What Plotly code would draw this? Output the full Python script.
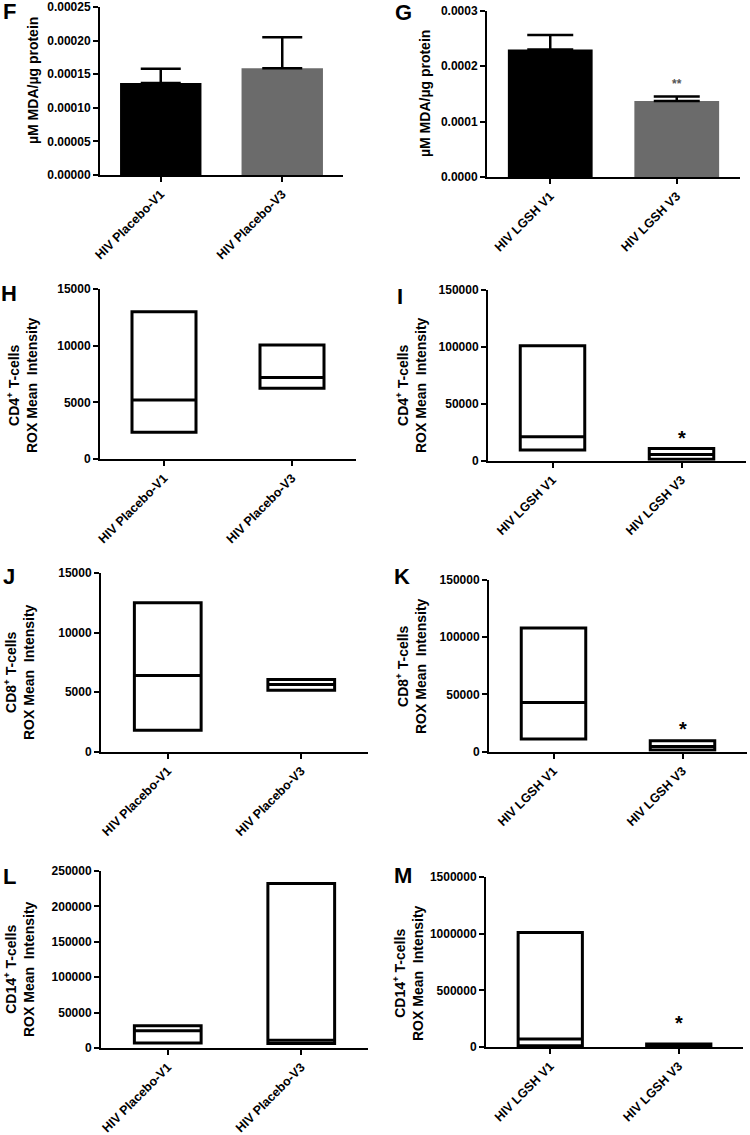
import plotly.graph_objects as go

W, H = 750, 1135

# bar panels (mean + SEM)
f_labels = ["HIV Placebo-V1", "HIV Placebo-V3"]
f_mean = [0.000137, 0.000159]
f_err = [0.000021, 0.000046]

g_labels = ["HIV LGSH V1", "HIV LGSH V3"]
g_mean = [0.000230, 0.000137]
g_err = [0.000026, 0.000008]

# floating bar panels: min, median, max
h_min = [2350, 6250]
h_med = [5200, 7200]
h_max = [13000, 10050]

i_min = [9500, 1200]
i_med = [21000, 5500]
i_max = [101000, 10800]

j_min = [1800, 5150]
j_med = [6400, 5650]
j_max = [12500, 6050]

k_min = [11000, 1400]
k_med = [43000, 4500]
k_max = [108000, 9600]

l_min = [7000, 6500]
l_med = [24500, 11000]
l_max = [31500, 232500]

m_min = [12000, 5000]
m_med = [70000, 15000]
m_max = [1010000, 26000]

FONT = "Liberation Sans, Arial, sans-serif"


def px_x(v):
    return v / W


def px_y(v):
    return 1 - v / H


fig = go.Figure()

# panel definitions: axis id, x px range, y px range (top, bottom), y range, dtick, format
panels = [
    ("F", 1, (100, 343), (7, 175), [0, 0.00025], 0.00005, ".5f"),
    ("G", 2, (487, 740), (10.7, 177), [0, 0.0003], 0.0001, ".4f"),
    ("H", 3, (100, 356), (289, 459), [0, 15000], 5000, "d"),
    ("I", 4, (488, 746), (290, 460.7), [0, 150000], 50000, "d"),
    ("J", 5, (101, 368), (573, 751.7), [0, 15000], 5000, "d"),
    ("K", 6, (489, 747), (580, 751.7), [0, 150000], 50000, "d"),
    ("L", 7, (101, 368), (871, 1048), [0, 250000], 50000, "d"),
    ("M", 8, (486, 743), (877, 1047), [0, 1500000], 500000, "d"),
]

layout = {}
for name, n, xr, yr, rng, dt, fmt in panels:
    sx = "" if n == 1 else str(n)
    layout["xaxis" + sx] = dict(
        domain=[px_x(xr[0]), px_x(xr[1])], anchor="y" + sx, range=[-0.5, 1.5],
        type="category", showline=True, linecolor="black", linewidth=2,
        ticks="outside", ticklen=5, tickwidth=2, tickcolor="black",
        tickangle=-45, showgrid=False, zeroline=False, automargin=False,
        tickfont=dict(family=FONT, size=12.5, color="black", weight="bold"),
    )
    layout["yaxis" + sx] = dict(
        domain=[px_y(yr[1]), px_y(yr[0])], anchor="x" + sx, range=rng,
        dtick=dt, tick0=0, tickformat=fmt, showline=True, linecolor="black",
        linewidth=2, ticks="outside", ticklen=5, tickwidth=2, tickcolor="black",
        showgrid=False, zeroline=False, automargin=False,
        tickfont=dict(family=FONT, size=12, color="black", weight="bold"),
    )

# bar charts
for n, labels, mean, err, cap in [(1, f_labels, f_mean, f_err, 20), (2, g_labels, g_mean, g_err, 23)]:
    sx = "" if n == 1 else str(n)
    fig.add_trace(go.Bar(
        x=labels, y=mean, xaxis="x" + sx, yaxis="y" + sx,
        marker=dict(color=["#000000", "#6b6b6b"], line=dict(width=0)),
        width=0.67,
        error_y=dict(type="data", symmetric=False, array=err, arrayminus=[0, 0],
                     color="black", thickness=2.5, width=cap),
        showlegend=False,
    ))

# floating bars (min-max with median)
box_sets = [
    (3, f_labels, h_min, h_med, h_max),
    (4, g_labels, i_min, i_med, i_max),
    (5, f_labels, j_min, j_med, j_max),
    (6, g_labels, k_min, k_med, k_max),
    (7, f_labels, l_min, l_med, l_max),
    (8, g_labels, m_min, m_med, m_max),
]
for n, labels, lo, md, hi in box_sets:
    sx = str(n)
    fig.add_trace(go.Box(
        x=labels, q1=lo, median=md, q3=hi, lowerfence=lo, upperfence=hi,
        xaxis="x" + sx, yaxis="y" + sx, width=0.5,
        fillcolor="white", line=dict(color="black", width=3),
        boxpoints=False, showlegend=False, hoverinfo="skip",
    ))

ann = []
# panel letters
letters = [("F", 9, 11), ("G", 403, 12), ("H", 9, 294), ("I", 400, 296),
           ("J", 9, 576), ("K", 402, 576), ("L", 9, 876), ("M", 403, 875)]
for t, x, y in letters:
    ann.append(dict(text=t, x=px_x(x), y=px_y(y), xref="paper", yref="paper",
                    showarrow=False, xanchor="center", yanchor="middle",
                    font=dict(family=FONT, size=22, color="black", weight="bold")))

mda = "\u00b5M MDA/\u00b5g protein"
titles = [
    (mda, 33, 81),
    (mda, 425, 94),
    ("CD4<sup>+</sup> T-cells<br>ROX Mean\u00a0 Intensity", 22, 385),
    ("CD4<sup>+</sup> T-cells<br>ROX Mean\u00a0 Intensity", 411, 385),
    ("CD8<sup>+</sup> T-cells<br>ROX Mean\u00a0 Intensity", 19, 672),
    ("CD8<sup>+</sup> T-cells<br>ROX Mean\u00a0 Intensity", 411, 666),
    ("CD14<sup>+</sup> T-cells<br>ROX Mean\u00a0 Intensity", 19, 969),
    ("CD14<sup>+</sup> T-cells<br>ROX Mean\u00a0 Intensity", 408, 973),
]
for t, x, y in titles:
    ann.append(dict(text=t, x=px_x(x), y=px_y(y), xref="paper", yref="paper",
                    showarrow=False, textangle=-90, xanchor="center", yanchor="middle",
                    font=dict(family=FONT, size=14, color="black", weight="bold")))

# significance marks
stars = [("x2", "y2", g_labels[1], 0.000151, "**", 12, "#555555"),
         ("x4", "y4", g_labels[1], 8700, "*", 20, "black"),
         ("x6", "y6", g_labels[1], 8700, "*", 20, "black"),
         ("x8", "y8", g_labels[1], 97000, "*", 20, "black")]
for xr_, yr_, x, y, t, s, c in stars:
    ann.append(dict(text=t, x=x, y=y, xref=xr_, yref=yr_, showarrow=False,
                    xanchor="center", yanchor="bottom",
                    font=dict(family=FONT, size=s, color=c, weight="bold")))

fig.update_layout(
    width=W, height=H, margin=dict(l=0, r=0, t=0, b=0, autoexpand=False),
    paper_bgcolor="white", plot_bgcolor="white",
    annotations=ann, showlegend=False, **layout,
)

# drop the default page margin so the figure sits at the window's corner
fig.write_html("out.html", config={"displayModeBar": False},
               post_script="document.body.style.margin = '0';")
